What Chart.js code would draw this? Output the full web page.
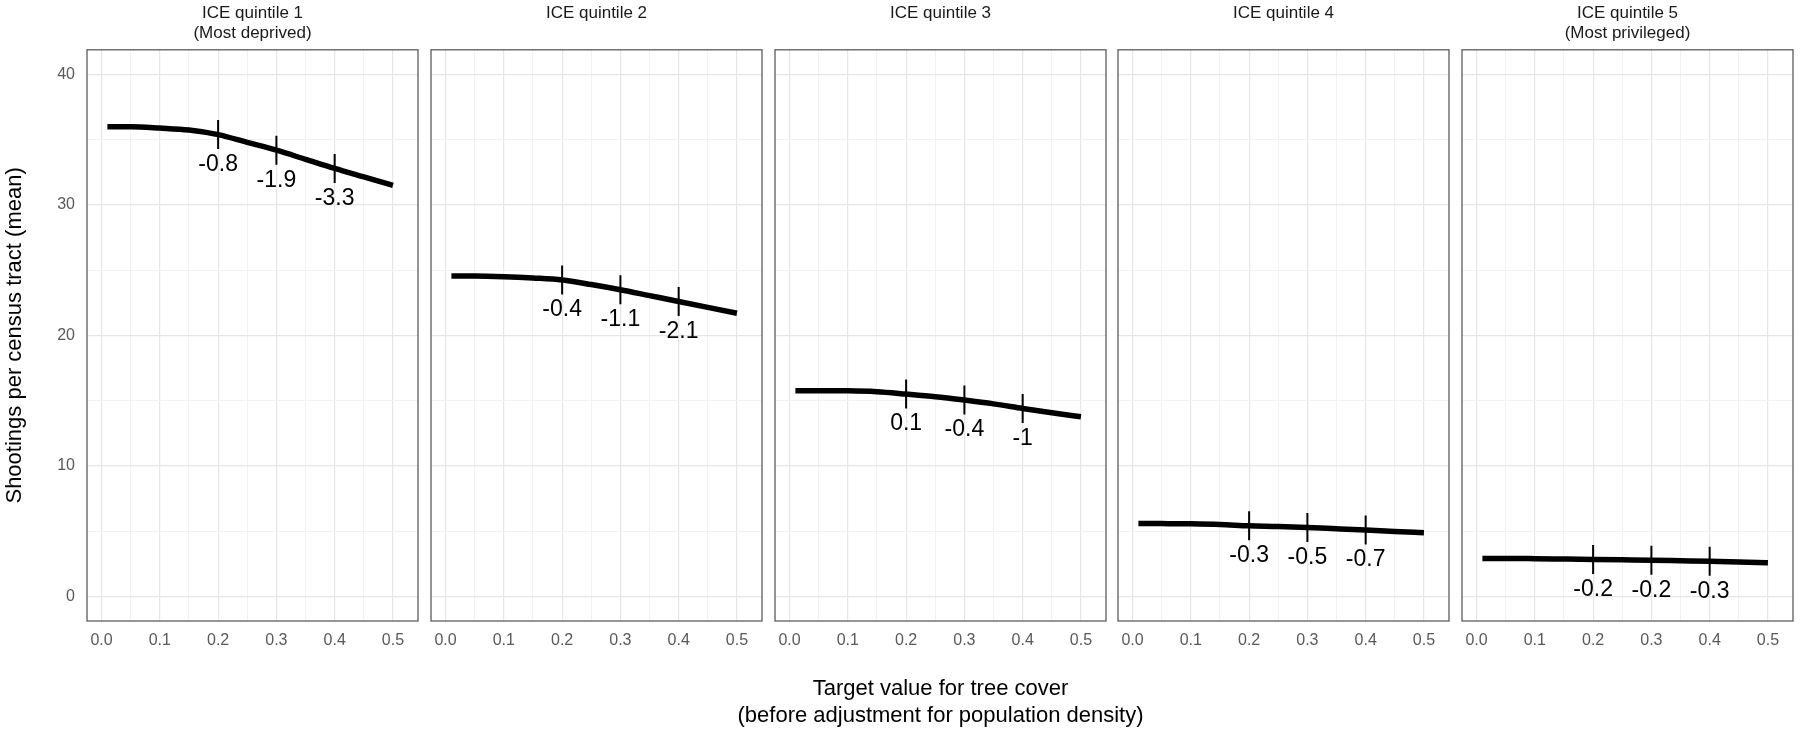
<!DOCTYPE html>
<html>
<head>
<meta charset="utf-8">
<script src="https://cdn.jsdelivr.net/npm/chart.js@4.4.1/dist/chart.umd.min.js"></script>
<style>
  html, body { margin: 0; padding: 0; background: #fff; }
  #wrap { position: relative; width: 1800px; height: 734px; }
  .panel { position: absolute; top: 0; height: 734px; }
</style>
</head>
<body>
<div id="wrap"></div>
<script>
// facet titles
const panelTitles = [
    ['ICE quintile 1', '(Most deprived)'],
    ['ICE quintile 2', ''],
    ['ICE quintile 3', ''],
    ['ICE quintile 4', ''],
    ['ICE quintile 5', '(Most privileged)']
];
const xAxisTitle = ['Target value for tree cover', '(before adjustment for population density)'];
const yAxisTitle = 'Shootings per census tract (mean)';

// target tree cover (x) and mean shootings per tract (y)
const targetValues = [0.01, 0.05, 0.1, 0.15, 0.2, 0.25, 0.3, 0.35, 0.4, 0.45, 0.5];
const shootingsQ1 = [36.0, 36.0, 35.9, 35.75, 35.4, 34.8, 34.2, 33.5, 32.8, 32.15, 31.5];
const shootingsQ2 = [24.55, 24.55, 24.5, 24.4, 24.25, 23.9, 23.5, 23.05, 22.6, 22.15, 21.7];
const shootingsQ3 = [15.76, 15.76, 15.75, 15.68, 15.5, 15.3, 15.04, 14.75, 14.4, 14.07, 13.76];
const shootingsQ4 = [5.58, 5.57, 5.55, 5.5, 5.4, 5.35, 5.27, 5.17, 5.07, 4.97, 4.86];
const shootingsQ5 = [2.9, 2.9, 2.88, 2.85, 2.82, 2.79, 2.76, 2.72, 2.68, 2.62, 2.56];

// marked targets and the change labels printed under them
const markedTargets = [0.2, 0.3, 0.4];
const changeQ1 = [-0.8, -1.9, -3.3];
const changeQ2 = [-0.4, -1.1, -2.1];
const changeQ3 = [0.1, -0.4, -1];
const changeQ4 = [-0.3, -0.5, -0.7];
const changeQ5 = [-0.2, -0.2, -0.3];

// axis ticks
const xTickLabels = [0, 0.1, 0.2, 0.3, 0.4, 0.5];
const yTickLabels = [0, 10, 20, 30, 40];

const series = [shootingsQ1, shootingsQ2, shootingsQ3, shootingsQ4, shootingsQ5];
const changes = [changeQ1, changeQ2, changeQ3, changeQ4, changeQ5];

// major + minor grid positions
const xGrid = xTickLabels.flatMap((v, k) => k < xTickLabels.length - 1 ? [v, v + 0.05] : [v]);
const yGrid = yTickLabels.flatMap((v, k) => k < yTickLabels.length - 1 ? [v, v + 5] : [v]);

const FONT = "'Liberation Sans', Arial, Helvetica, sans-serif";
const panelLefts = [87, 431, 775, 1118, 1462];
const panelWidth = 331;
const WIDE = 160; // extra room on the middle panel for the shared x title

const isMajorX = v => Math.abs(v * 10 - Math.round(v * 10)) < 1e-6;
const isMajorY = v => Math.abs(v / 10 - Math.round(v / 10)) < 1e-6;

// panel border, change labels under the tick marks, shared x title
const panelDecor = {
    id: 'panelDecor',
    afterDatasetsDraw(chart) {
        const ctx = chart.ctx;
        const meta = chart.getDatasetMeta(1);
        const texts = chart.data.datasets[1].labelsText;
        ctx.save();
        ctx.fillStyle = '#000';
        ctx.font = '23px ' + FONT;
        ctx.textAlign = 'center';
        ctx.textBaseline = 'middle';
        meta.data.forEach((pt, k) => {
            ctx.fillText(texts[k], pt.x, pt.y + 30);
        });
        ctx.restore();
    },
    afterDraw(chart, args, opts) {
        const a = chart.chartArea;
        const ctx = chart.ctx;
        ctx.save();
        ctx.strokeStyle = '#5c5c5c';
        ctx.lineWidth = 1.3;
        ctx.strokeRect(a.left, a.top, a.right - a.left, a.bottom - a.top);
        if (opts.xTitle) {
            ctx.fillStyle = '#000';
            ctx.font = '22px ' + FONT;
            ctx.textAlign = 'center';
            ctx.textBaseline = 'middle';
            const cx = (a.left + a.right) / 2;
            opts.xTitle.forEach((t, k) => ctx.fillText(t, cx, a.bottom + 68 + k * 27));
        }
        ctx.restore();
    }
};

const wrap = document.getElementById('wrap');

series.forEach((ys, i) => {
    const yw = i === 0 ? 87 : 2;
    const extra = i === 2 ? WIDE : 0;
    const div = document.createElement('div');
    div.className = 'panel';
    div.style.left = (panelLefts[i] - yw - extra) + 'px';
    div.style.width = (panelWidth + yw + 2 + 2 * extra) + 'px';
    const canvas = document.createElement('canvas');
    div.appendChild(canvas);
    wrap.appendChild(div);

    new Chart(canvas, {
        type: 'line',
        data: {
            datasets: [
                {
                    data: targetValues.map((x, k) => ({ x: x, y: ys[k] })),
                    borderColor: '#000',
                    borderWidth: 5.5,
                    pointRadius: 0,
                    cubicInterpolationMode: 'monotone'
                },
                {
                    data: markedTargets.map(x => ({ x: x, y: ys[targetValues.indexOf(x)] })),
                    labelsText: changes[i].map(String),
                    showLine: false,
                    pointStyle: 'line',
                    rotation: 90,
                    pointRadius: 14.5,
                    pointHoverRadius: 14.5,
                    pointBorderWidth: 2,
                    pointBorderColor: '#000'
                }
            ]
        },
        options: {
            responsive: true,
            maintainAspectRatio: false,
            animation: false,
            events: [],
            layout: { autoPadding: false, padding: { left: extra, right: 2 + extra, top: 0, bottom: 0 } },
            plugins: {
                legend: { display: false },
                tooltip: { enabled: false },
                panelDecor: { xTitle: i === 2 ? xAxisTitle : null },
                title: {
                    display: true,
                    text: panelTitles[i],
                    fullSize: false,
                    color: '#1a1a1a',
                    font: { family: FONT, size: 17, weight: 'normal', lineHeight: 1.2 },
                    padding: { top: 3, bottom: 6 }
                }
            },
            scales: {
                x: {
                    type: 'linear',
                    min: -0.025,
                    max: 0.543,
                    afterBuildTicks: s => { s.ticks = xGrid.map(v => ({ value: v })); },
                    afterFit: s => { s.height = 113; s.paddingLeft = 0; s.paddingRight = 0; },
                    border: { display: false },
                    grid: {
                        drawTicks: false,
                        color: c => isMajorX(c.tick.value) ? '#e6e6e6' : '#f2f2f2',
                        lineWidth: c => isMajorX(c.tick.value) ? 1.2 : 1
                    },
                    ticks: {
                        autoSkip: false,
                        maxRotation: 0,
                        padding: 10,
                        color: '#595959',
                        font: { family: FONT, size: 16 },
                        callback: v => isMajorX(v) ? v.toFixed(1) : ''
                    }
                },
                y: {
                    type: 'linear',
                    min: -1.9,
                    max: 41.9,
                    afterBuildTicks: s => { s.ticks = yGrid.map(v => ({ value: v })); },
                    afterFit: s => { s.width = yw; s.paddingTop = 0; s.paddingBottom = 0; },
                    border: { display: false },
                    grid: {
                        drawTicks: false,
                        color: c => isMajorY(c.tick.value) ? '#e6e6e6' : '#f2f2f2',
                        lineWidth: c => isMajorY(c.tick.value) ? 1.2 : 1
                    },
                    ticks: {
                        display: i === 0,
                        padding: 12,
                        color: '#595959',
                        font: { family: FONT, size: 16 },
                        callback: v => isMajorY(v) ? String(v) : ''
                    },
                    title: i === 0 ? {
                        display: true,
                        text: yAxisTitle,
                        color: '#000',
                        font: { family: FONT, size: 22, lineHeight: 1.0 },
                        padding: { top: 4, bottom: 0 }
                    } : { display: false }
                }
            }
        },
        plugins: [panelDecor]
    });
});
</script>
</body>
</html>
